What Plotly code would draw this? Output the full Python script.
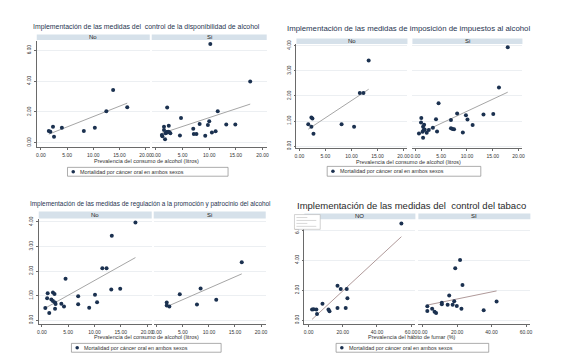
import numpy as np
import plotly.graph_objects as go

W, H = 566, 360

# ---------------- data ----------------
titles = [
    "Implementación de las medidas del  control de la disponibilidad de alcohol",
    "Implementación de las medidas de imposición de impuestos al alcohol",
    "Implementación de las medidas de regulación a la promoción y patrocinio del alcohol",
    "Implementación de las medidas del  control del tabaco",
]
x_titles = [
    "Prevalencia del consumo de alcohol (litros)",
    "Prevalencia del consumo de alcohol (litros)",
    "Prevalencia del consumo de alcohol (litros)",
    "Prevalencia del hábito de fumar (%)",
]
strip_labels = [["No", "Si"], ["No", "Si"], ["No", "Si"], ["NO", "SI"]]
legend_label = "Mortalidad por cáncer oral en ambos sexos"

alc_ticks = [0, 5, 10, 15, 20]
tab_ticks = [0, 20, 40, 60]
y_ticks_6 = [0, 2, 4, 6]
y_ticks_4 = [0, 1, 2, 3, 4]

p1_no_x = [1.5, 1.8, 2.3, 2.5, 4.0, 8.2, 10.3, 12.5, 13.8, 16.5]
p1_no_y = [0.76, 0.72, 1.04, 0.38, 0.98, 0.76, 0.98, 2.04, 3.42, 2.31]
p1_si_x = [10.2, 17.7, 2.1, 4.7, 11.6, 10.0, 9.75, 8.2, 13.2, 14.9, 7.0, 7.1, 7.6, 4.5,
           9.25, 10.5, 11.2, 1.2, 1.5, 1.5, 1.7, 1.8, 2.0, 2.1, 2.3, 2.5, 2.7, 1.1, 2.4]
p1_si_y = [6.41, 3.97, 2.29, 1.61, 2.04, 1.40, 1.15, 1.21, 1.19, 1.19, 0.91, 0.57, 0.57, 0.47,
           0.45, 0.66, 0.74, 0.42, 1.04, 0.83, 0.23, 0.62, 0.70, 0.66, 0.72, 0.68, 0.62, 0.50, 1.10]

p2_no_x = [13.3, 11.6, 12.3, 2.3, 2.5, 1.7, 2.3, 2.7, 8.1, 10.5]
p2_no_y = [3.41, 2.12, 2.12, 1.14, 1.10, 0.87, 0.77, 0.50, 0.87, 0.77]
p2_si_x = [17.9, 16.2, 4.5, 8.1, 9.8, 10.1, 13.2, 15.1, 11.1, 6.9, 4.0, 6.9, 7.2, 7.5,
           9.2, 4.2, 3.4, 1.15, 1.1, 1.5, 1.7, 1.8, 1.4, 0.7, 1.5, 2.2, 2.6, 1.6]
p2_si_y = [3.94, 2.34, 1.71, 1.30, 1.23, 1.06, 1.26, 1.28, 0.84, 1.04, 1.07, 0.71, 0.68, 0.67,
           0.55, 0.58, 0.73, 1.12, 0.94, 0.77, 0.85, 0.66, 0.57, 0.51, 0.34, 0.54, 0.64, 0.64]

p3_no_x = [17.8, 13.3, 11.5, 12.3, 4.5, 13.2, 14.9, 6.9, 10.1, 10.5, 6.9, 9.0, 1.1, 1.0,
           2.1, 2.4, 1.8, 2.1, 2.5, 2.6, 3.7, 4.2, 0.65, 2.5, 1.4]
p3_no_y = [3.98, 3.44, 2.12, 2.12, 1.69, 1.25, 1.28, 0.98, 1.04, 0.73, 0.65, 0.51, 1.10, 0.90,
           1.13, 1.07, 0.84, 0.78, 0.72, 0.66, 0.67, 0.56, 0.50, 0.47, 0.30]
p3_si_x = [16.3, 8.4, 4.4, 7.7, 11.4, 1.9, 1.9, 2.4]
p3_si_y = [2.36, 1.29, 1.06, 0.64, 0.83, 0.72, 0.60, 0.56]

p4_no_x = [54.3, 16.9, 18.8, 22.3, 22.7, 8.1, 2.0, 2.9, 4.5, 4.9, 11.6, 12.2, 16.9, 21.7]
p4_no_y = [6.44, 2.30, 2.08, 2.08, 1.47, 1.10, 0.71, 0.73, 0.71, 0.41, 0.71, 0.60, 0.82, 0.82]
p4_si_x = [21.7, 18.9, 23.1, 15.4, 18.3, 11.1, 11.1, 14.5, 17.4, 19.8, 22.5, 42.9, 35.4,
           2.7, 5.5, 2.7, 6.9, 7.8]
p4_si_y = [4.0, 3.45, 2.34, 1.65, 1.27, 1.16, 1.06, 1.03, 1.03, 0.95, 0.77, 1.25, 0.67,
           0.93, 0.77, 0.62, 0.56, 0.49]

series = [
    [(p1_no_x, p1_no_y), (p1_si_x, p1_si_y)],
    [(p2_no_x, p2_no_y), (p2_si_x, p2_si_y)],
    [(p3_no_x, p3_no_y), (p3_si_x, p3_si_y)],
    [(p4_no_x, p4_no_y), (p4_si_x, p4_si_y)],
]

# ---------------- layout geometry (pixels) ----------------
geo = [
    dict(fac=[(27, 141), (143, 259)], dy=(29, 137), strip=(23, 28.5), xr=[-0.8, 20.8],
         yr=[-0.26, 6.64], xt=alc_ticks, yt=y_ticks_6, title=(138, 15, 6.9), xtitle=(138, 152),
         leg=(58, 220, 158, 167)),
    dict(fac=[(289, 401), (406, 517)], dy=(33, 138), strip=(27, 32.5), xr=[-0.57, 20.75],
         yr=[-0.06, 4.05], xt=alc_ticks, yt=y_ticks_4, title=(402, 17, 7.8), xtitle=(402, 153),
         leg=(320, 475, 157, 167)),
    dict(fac=[(29, 143), (145, 258)], dy=(210.5, 317), strip=(203, 210), xr=[-0.6, 20.9],
         yr=[-0.14, 4.12], xt=alc_ticks, yt=y_ticks_4, title=(142, 195, 6.4), xtitle=(138, 331),
         leg=(62, 213, 337, 346)),
    dict(fac=[(297, 409), (412, 525)], dy=(211, 317.3), strip=(205, 210.7), xr=[-2.5, 62.5],
         yr=[-0.25, 6.7], xt=tab_ticks, yt=y_ticks_6, title=(405, 197, 9.5), xtitle=(406, 331),
         leg=(329, 483, 337, 346)),
]

FONT = "Arial, Liberation Sans, sans-serif"
MARK = "#1b3150"
LINE_COL = ["#a6a6a6", "#a6a6a6", "#a6a6a6", "#b09a9a"]
STRIP_FILL = "#d6e1ea"
AX_COL = "#6a6a6a"


def fx(p):
    return p / W


def fy(p):
    return 1 - p / H


fig = go.Figure()
shapes, annotations = [], []
layout_axes = {}

k = 0
for pi, g in enumerate(geo):
    for si in range(2):
        k += 1
        xs, ys = series[pi][si]
        xname = "x" if k == 1 else f"x{k}"
        yname = "y" if k == 1 else f"y{k}"
        xa = "xaxis" if k == 1 else f"xaxis{k}"
        ya = "yaxis" if k == 1 else f"yaxis{k}"
        x0, x1 = g["fac"][si]
        # fitted line (least squares, like Stata lfit)
        b, a = np.polyfit(np.array(xs), np.array(ys), 1)
        lx = np.array([min(xs), max(xs)])
        fig.add_trace(go.Scatter(x=lx, y=a + b * lx, mode="lines", xaxis=xname, yaxis=yname,
                                 line=dict(color=LINE_COL[pi], width=1), showlegend=False,
                                 hoverinfo="skip"))
        fig.add_trace(go.Scatter(x=xs, y=ys, mode="markers", xaxis=xname, yaxis=yname,
                                 marker=dict(color=MARK, size=4), showlegend=False,
                                 name=legend_label))
        layout_axes[xa] = dict(
            domain=[fx(x0), fx(x1)], range=g["xr"], anchor=yname, tickvals=g["xt"],
            tickformat=".2f", showline=True, linecolor=AX_COL, linewidth=0.6,
            ticks="outside", ticklen=2, tickwidth=0.5, tickcolor=AX_COL,
            tickfont=dict(size=5, color="#333", family=FONT), showgrid=False,
            zeroline=False, ticklabelstandoff=1,
        )
        layout_axes[ya] = dict(
            domain=[fy(g["dy"][1]), fy(g["dy"][0])], range=g["yr"], anchor=xname,
            tickvals=g["yt"], tickformat=".2f", showline=(si == 0), linecolor=AX_COL,
            linewidth=0.6, ticks="outside" if si == 0 else "", ticklen=2, tickwidth=0.5,
            tickcolor=AX_COL, showticklabels=(si == 0), tickangle=-90,
            tickfont=dict(size=4.8, color="#333", family=FONT), showgrid=True,
            gridcolor="#eceff2", gridwidth=0.6, zeroline=False, ticklabelstandoff=1,
        )
        # strip
        shapes.append(dict(type="rect", xref="paper", yref="paper", x0=fx(x0), x1=fx(x1),
                           y0=fy(g["strip"][1]), y1=fy(g["strip"][0]),
                           fillcolor=STRIP_FILL, line=dict(width=0), layer="below"))
        annotations.append(dict(x=fx((x0 + x1) / 2), y=fy((g["strip"][0] + g["strip"][1]) / 2),
                                xref="paper", yref="paper", text=strip_labels[pi][si],
                                showarrow=False, font=dict(size=6, color="#222", family=FONT),
                                xanchor="center", yanchor="middle"))
    # panel title
    tx, ty, ts = g["title"]
    annotations.append(dict(x=fx(tx), y=fy(ty), xref="paper", yref="paper", text=titles[pi],
                            showarrow=False, xanchor="center", yanchor="middle",
                            font=dict(size=ts, color="#1f3550" if pi < 3 else "#2a2a2a",
                                      family=FONT)))
    # x title
    annotations.append(dict(x=fx(g["xtitle"][0]), y=fy(g["xtitle"][1]), xref="paper",
                            yref="paper", text=x_titles[pi], showarrow=False,
                            xanchor="center", yanchor="middle",
                            font=dict(size=5.5, color="#333", family=FONT)))
    # legend box
    lx0, lx1, ly0, ly1 = g["leg"]
    shapes.append(dict(type="rect", xref="paper", yref="paper", x0=fx(lx0), x1=fx(lx1),
                       y0=fy(ly1), y1=fy(ly0), line=dict(color="#8a8a8a", width=0.7),
                       fillcolor="white"))
    cy = (ly0 + ly1) / 2
    shapes.append(dict(type="circle", xref="paper", yref="paper", x0=fx(lx0 + 4),
                       x1=fx(lx0 + 7.6), y0=fy(cy + 1.8), y1=fy(cy - 1.8),
                       fillcolor=MARK, line=dict(width=0)))
    annotations.append(dict(x=fx(lx0 + 11), y=fy(cy), xref="paper", yref="paper",
                            text=legend_label, showarrow=False, xanchor="left",
                            yanchor="middle", font=dict(size=5.4, color="#333", family=FONT)))

# small overlay box in the tobacco panel
shapes.append(dict(type="rect", xref="paper", yref="paper", x0=fx(287), x1=fx(313),
                   y0=fy(221), y1=fy(206), fillcolor="white",
                   line=dict(color="#b5b5b5", width=0.6)))
for i, yy in enumerate([209, 212, 215, 218]):
    shapes.append(dict(type="line", xref="paper", yref="paper", x0=fx(289),
                       x1=fx(300 + (i % 2) * 9), y0=fy(yy), y1=fy(yy),
                       line=dict(color="#c8c8c8", width=0.7)))

fig.update_layout(
    width=W, height=H, margin=dict(l=0, r=0, t=0, b=0),
    paper_bgcolor="white", plot_bgcolor="white",
    font=dict(family=FONT), shapes=shapes, annotations=annotations, showlegend=False,
    **layout_axes,
)

fig.write_html("out.html")
